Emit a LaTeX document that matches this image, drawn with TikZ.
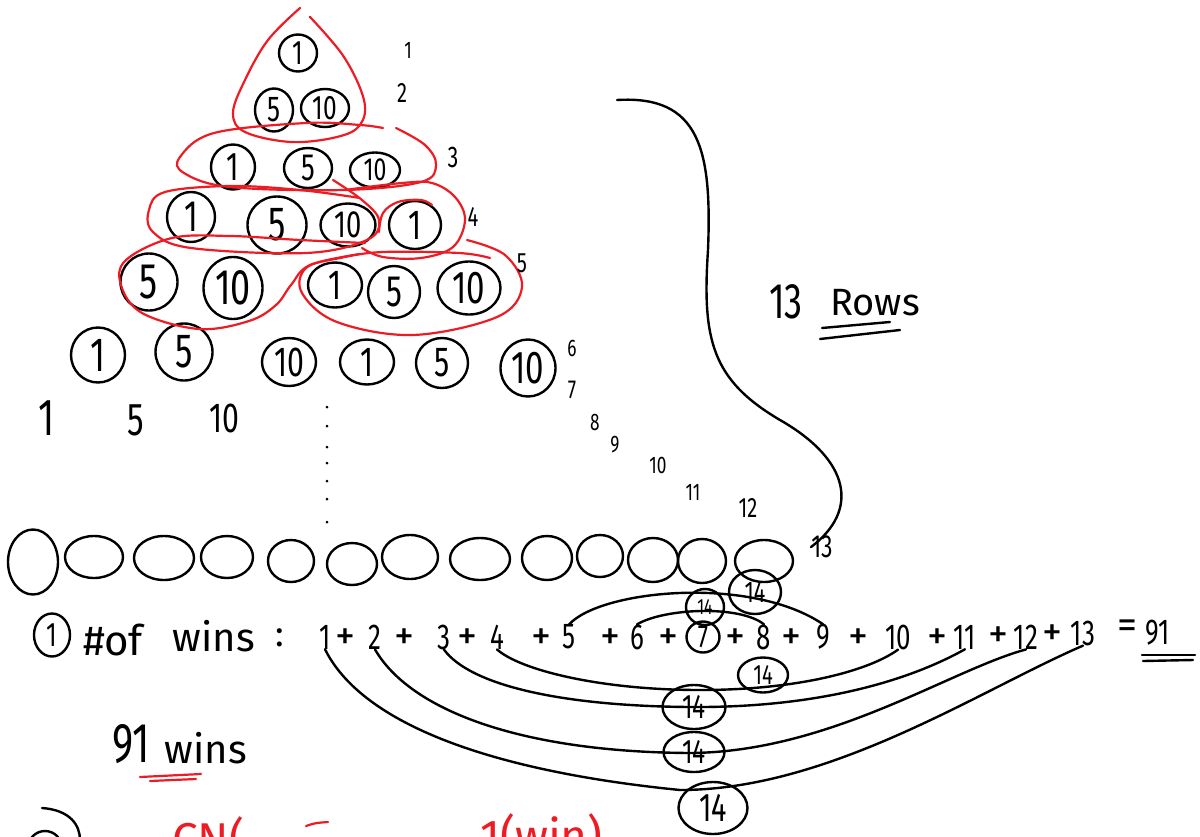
\documentclass[tikz,border=0pt]{standalone}
\usepackage{fontspec}
\setmainfont{Fira Sans}
\newfontfamily\hand[FakeStretch=0.72]{Fira Sans}
\usetikzlibrary{shapes.geometric}
\definecolor{redpen}{RGB}{237,28,36}
\tikzset{
  pen/.style={line width=2.4pt, line cap=round, line join=round},
  coin/.style={draw, ellipse, pen, inner sep=0pt},
  redloop/.style={draw=redpen, line width=2.2pt, line cap=round, line join=round},
  sumnum/.style={inner sep=0pt, font=\hand\fontsize{36}{36}\selectfont},
  plus/.style={inner sep=0pt, font=\fontsize{40}{40}\selectfont},
  rowlab/.style={inner sep=0pt, font=\hand\fontsize{#1}{#1}\selectfont},
  word/.style={inner sep=0pt, font=\fontsize{#1}{#1}\selectfont},
  dotmark/.style={fill, circle, inner sep=0pt, minimum size=3pt}
}
\newcommand\mycoin[7]{\node[coin,minimum width=#4pt,minimum height=#5pt,
  label={[inner sep=0pt,font=\hand\fontsize{#6}{#6}\selectfont]center:#7}] (#1) at (#2,#3) {};}
\begin{document}
\begin{tikzpicture}[x=1pt,y=-1pt]
\useasboundingbox (0,0) rectangle (1200,836);
\clip (0,0) rectangle (1200,836);

% ---- pyramid coins
\mycoin{a1}{298}{53}{38}{37}{34}{1}
\mycoin{b1}{274}{110}{38}{43}{36}{5}
\mycoin{b2}{325}{108}{48}{38}{34}{10}
\mycoin{c1}{233}{167}{44}{45}{40}{1}
\mycoin{c2}{308}{168}{48}{40}{38}{5}
\mycoin{c3}{375}{170}{50}{35}{32}{10}
\mycoin{d1}{191}{217}{48}{50}{44}{1}
\mycoin{d2}{277}{225}{59}{57}{48}{5}
\mycoin{d3}{348}{225}{55}{43}{38}{10}
\mycoin{d4}{415}{225}{52}{48}{42}{1}
\mycoin{e1}{149}{282}{57}{57}{50}{5}
\mycoin{e2}{233}{288}{59}{62}{50}{10}
\mycoin{e3}{335}{285}{54}{45}{42}{1}
\mycoin{e4}{394}{292}{52}{52}{44}{5}
\mycoin{e5}{469}{288}{63}{53}{46}{10}
\mycoin{f1}{98}{355}{54}{55}{48}{1}
\mycoin{f2}{184}{352}{57}{57}{48}{5}
\mycoin{f3}{289}{362}{54}{48}{42}{10}
\mycoin{f4}{367}{362}{54}{45}{42}{1}
\mycoin{f5}{442}{363}{52}{50}{42}{5}
\mycoin{f6}{528}{368}{55}{57}{46}{10}

% ---- red loops
\draw[redloop] plot[smooth, tension=0.6] coordinates {(300,8) (268,40) (245,80) (233,113) (245,132) (291,142) (337,137) (360,125) (364,100) (344,57) (310,17)};
\draw[redloop] plot[smooth, tension=0.6] coordinates {(396,128) (425,145) (436,165) (421,182) (344,190) (230,187) (184,173) (180,157) (214,133) (306,123) (360,125) (383,128)};
\draw[redloop] plot[smooth, tension=0.6] coordinates {(333,180) (362,200) (379,220) (367,240) (306,253) (191,248) (153,232) (149,210) (165,192) (230,186) (300,190) (360,198)};
\draw[redloop] plot[smooth, tension=0.6] coordinates {(345,190) (402,183) (432,183) (455,197) (465,220) (453,247) (421,258) (383,257) (362,248)};
\draw[redloop] plot[smooth, tension=0.6] coordinates {(379,232) (383,213) (398,202) (421,200) (432,205)};
\draw[redloop] plot[smooth, tension=0.6] coordinates {(365,243) (300,240) (230,236) (172,238) (126,260) (121,285) (142,313) (199,329) (249,321) (276,305) (291,285) (310,265) (360,254)};
\draw[redloop] plot[smooth, tension=0.6] coordinates {(467,240) (505,255) (522,287) (497,317) (413,335) (337,322) (302,293) (306,268) (340,258) (383,252) (459,253) (490,258)};

% ---- row labels
\node[rowlab=24] (l1) at (408,50) {1};
\node[rowlab=28] (l2) at (402,93) {2};
\node[rowlab=30] (l3) at (453,157) {3};
\node[rowlab=28] (l4) at (473,217) {4};
\node[rowlab=28] (l5) at (522,263) {5};
\node[rowlab=24] (l6) at (572,348) {6};
\node[rowlab=26] (l7) at (572,390) {7};
\node[rowlab=24] (l8) at (595,422) {8};
\node[rowlab=24] (l9) at (615,445) {9};
\node[rowlab=24] (l10) at (658,465) {10};
\node[rowlab=24] (l11) at (693,492) {11};
\node[rowlab=28] (l12) at (748,508) {12};
\node[rowlab=32] (l13) at (822,547) {13};

% ---- 1 5 10
\node[rowlab=52] (n1) at (47,418) {1};
\node[rowlab=46] (n2) at (136,420) {5};
\node[rowlab=42] (n3) at (224,418) {10};

% ---- dotted column
\foreach \yy [count=\i] in {407,426,447,463,481,499,522} \node[dotmark] (dot\i) at (327,\yy) {};

% ---- bottom row of 13 coins
\mycoin{g1}{33}{562}{50}{65}{10}{}
\mycoin{g2}{94}{557}{58}{42}{10}{}
\mycoin{g3}{164}{558}{60}{44}{10}{}
\mycoin{g4}{227}{557}{52}{42}{10}{}
\mycoin{g5}{291}{561}{46}{42}{10}{}
\mycoin{g6}{352}{564}{50}{42}{10}{}
\mycoin{g7}{410}{557}{56}{44}{10}{}
\mycoin{g8}{480}{559}{60}{42}{10}{}
\mycoin{g9}{547}{558}{50}{44}{10}{}
\mycoin{g10}{600}{556}{46}{42}{10}{}
\mycoin{g11}{653}{560}{50}{44}{10}{}
\mycoin{g12}{702}{561}{48}{44}{10}{}
\mycoin{g13}{764}{561}{58}{42}{10}{}

% ---- brace
\coordinate (bracetop) at (617,100);
\draw[pen] (bracetop) .. controls (700,95) and (712,150) .. (708,250)
  .. controls (702,340) and (712,380) .. (780,420)
  .. controls (850,460) and (860,510) .. (l13.west);

% ---- 13 Rows
\node[rowlab=50] (r13) at (786,302) {13};
\node[word=38] (rows) at (875,303) {Rows};
\draw[pen] (822,328) -- (890,322);
\draw[pen] (820,339) -- (900,330);

% ---- sum line
\mycoin{c0}{52}{635}{36}{43}{34}{1}
\node[word=42] (hashof) at (113,640) {\#of};
\node[word=40] (wins) at (214,636) {wins};
\node[word=36] (colon) at (280,638) {:};
\node[sumnum] (t1) at (325,637) {1};
\node[plus] (p1) at (345,639) {+};
\node[sumnum] (t2) at (375,637) {2};
\node[plus] (p2) at (404,639) {+};
\node[sumnum] (t3) at (444,637) {3};
\node[plus] (p3) at (467,639) {+};
\node[sumnum] (t4) at (497,637) {4};
\node[plus] (p4) at (541,639) {+};
\node[sumnum] (t5) at (569,637) {5};
\node[plus] (p5) at (610,639) {+};
\node[sumnum] (t6) at (637,637) {6};
\node[plus] (p6) at (668,639) {+};
\mycoin{t7}{703}{637}{33}{31}{32}{7}
\node[plus] (p7) at (735,639) {+};
\node[sumnum] (t8) at (764,637) {8};
\node[plus] (p8) at (791,639) {+};
\node[sumnum] (t9) at (823,637) {9};
\node[plus] (p9) at (858,639) {+};
\node[sumnum] (t10) at (898,637) {10};
\node[plus] (p10) at (937,639) {+};
\node[sumnum] (t11) at (965,637) {11};
\node[plus] (p11) at (998,637) {+};
\node[sumnum] (t12) at (1026,637) {12};
\node[plus] (p12) at (1052,635) {+};
\node[sumnum] (t13) at (1083,633) {13};
\node[plus] (eq) at (1127,629) {=};
\node[sumnum] (s91) at (1158,633) {91};
\draw[pen] (1142,655) -- (1195,655);
\draw[pen] (1143,661) -- (1193,660);

% ---- pairing arcs
\draw[pen] (t1.south) .. controls (360,720) and (480,770) .. (680,790)
  .. controls (830,790) and (980,690) .. (t13.south);
\draw[pen] (t2.south) .. controls (410,710) and (520,752) .. (690,753)
  .. controls (830,752) and (950,670) .. (t12.south);
\draw[pen] (t3.south) .. controls (470,685) and (560,706) .. (690,707)
  .. controls (820,708) and (910,680) .. (t11.south);
\draw[pen] (t4.south) .. controls (520,670) and (600,690) .. (700,690)
  .. controls (800,690) and (870,670) .. (t10.south);
\draw[pen] (t5.north) .. controls (600,590) and (750,575) .. (t9.north);
\draw[pen] (t6.north) .. controls (665,608) and (740,605) .. (t8.north);

% ---- 14 circles
\mycoin{k1}{755}{592}{52}{44}{30}{14}
\mycoin{k2}{705}{607}{38}{36}{22}{14}
\mycoin{k3}{763}{675}{50}{35}{28}{14}
\mycoin{k4}{694}{707}{63}{44}{34}{14}
\mycoin{k5}{694}{752}{61}{40}{34}{14}
\mycoin{k6}{713}{808}{69}{52}{40}{14}

% ---- 91 wins
\node[rowlab=56] (w91) at (131,744) {91};
\node[word=40] (w91wins) at (206,748) {wins};
\draw[redloop] (140,777) -- (201,774);
\draw[redloop] (150,781) -- (196,779);

% ---- bottom (cut off at the lower edge, as in the reference)
\mycoin{c2b}{45}{848}{34}{34}{30}{2}
\draw[pen] (42,808) .. controls (70,810) and (80,825) .. (80,840);
\node[word=46, text=redpen, anchor=north west] (redc) at (172,816) {CN(};
\draw[redloop] (306,826) .. controls (315,823) .. (328,822);
\node[word=46, text=redpen, anchor=north west] (redw) at (480,813) {1(win)};
\end{tikzpicture}
\end{document}
